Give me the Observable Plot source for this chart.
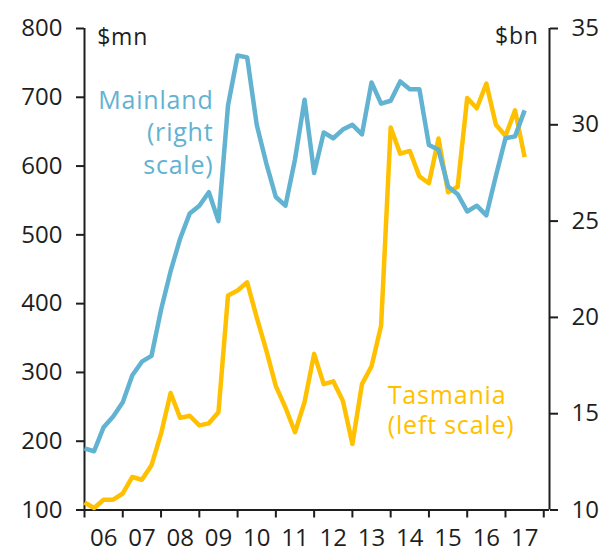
<!DOCTYPE html>
<html>
<head>
<meta charset="utf-8">
<script src="https://cdn.jsdelivr.net/npm/d3@7"></script>
<script src="https://cdn.jsdelivr.net/npm/@observablehq/plot@0.6"></script>
<style>
  html, body { margin: 0; padding: 0; background: #fff; }
  svg g[aria-label="text"] text { letter-spacing: 0.8px; }
</style>
</head>
<body>
<script>
// Quarterly observations, 2006 Q1 to 2017 Q3
const startYear = 2006;
const mainlandBn = [13.2, 13.05, 14.3, 14.85, 15.6, 17.0, 17.7, 18.0, 20.4, 22.4,
  24.1, 25.4, 25.8, 26.5, 25.0, 31.0, 33.6, 33.5, 30.0, 28.0,
  26.25, 25.8, 28.2, 31.3, 27.5, 29.6, 29.3, 29.75, 30.0, 29.5,
  32.2, 31.1, 31.25, 32.25, 31.85, 31.85, 28.95, 28.7, 26.8, 26.4,
  25.5, 25.8, 25.3, 27.35, 29.3, 29.4, 30.75];
const tasmaniaMn = [111, 103, 115, 115, 124, 148, 144, 165, 211, 270,
  234, 237, 223, 226, 242, 412, 419, 431, 380, 332,
  280, 249, 213, 257, 327, 283, 287, 259, 196, 283,
  309, 368, 656, 618, 622, 585, 575, 640, 562, 570,
  699, 684, 720, 660, 644, 681, 613];
const leftTicks = [100, 200, 300, 400, 500, 600, 700, 800];
const rightTicks = [10, 15, 20, 25, 30, 35];
const yearTicks = [2006, 2007, 2008, 2009, 2010, 2011, 2012, 2013, 2014, 2015, 2016, 2017, 2018];
const yearLabels = ["06", "07", "08", "09", "10", "11", "12", "13", "14", "15", "16", "17"];

// right scale ($bn, 10..35) maps onto left scale ($mn, 100..800)
const toLeft = bn => 100 + (bn - 10) * 28;
const fromLeft = v => 10 + (v - 100) / 28;

const t = d => startYear + d.i / 4;
const mainland = mainlandBn.map((v, i) => ({i, v}));
const tasmania = tasmaniaMn.map((v, i) => ({i, v}));

const blue = "#62b2d1";
const gold = "#ffc000";
const ink = "#1e1e1e";
const xMax = 2018.15;

const chart = Plot.plot({
  width: 613,
  height: 556,
  marginLeft: 84,
  marginRight: 64,
  marginTop: 28,
  marginBottom: 46.5,
  x: {domain: [2006, xMax]},
  y: {domain: [100, 800]},
  style: {fontFamily: "'Open Sans', sans-serif", fontSize: "24px", color: ink, background: "#fff"},
  marks: [
    Plot.axisY(leftTicks, {anchor: "left", tickSize: 8, tickPadding: 14, strokeWidth: 2, stroke: ink, label: null, fontSize: 24}),
    Plot.axisY(rightTicks.map(toLeft), {anchor: "right", tickSize: 8, tickPadding: 14, strokeWidth: 2, stroke: ink, label: null, fontSize: 24, tickFormat: d => String(Math.round(fromLeft(d)))}),
    Plot.axisX(yearTicks, {anchor: "bottom", tickSize: 8, strokeWidth: 2, stroke: ink, label: null, tickFormat: () => ""}),
    Plot.axisX(yearLabels.map((s, k) => yearTicks[k] + 0.5), {anchor: "bottom", tickSize: 0, tickPadding: 19, label: null, fontSize: 24, tickFormat: d => yearLabels[Math.round(d - 0.5) - 2006]}),
    Plot.ruleX([2006, xMax], {y1: 100, y2: 800, stroke: ink, strokeWidth: 2}),
    Plot.ruleY([100], {x1: 2006, x2: xMax, stroke: ink, strokeWidth: 2}),
    Plot.line(tasmania, {x: t, y: "v", stroke: gold, strokeWidth: 4.5, strokeLinejoin: "round", strokeLinecap: "butt"}),
    Plot.line(mainland, {x: t, y: d => toLeft(d.v), stroke: blue, strokeWidth: 4.5, strokeLinejoin: "round", strokeLinecap: "butt"}),
    Plot.text(["Mainland\n(right\nscale)"], {x: 2009.37, y: 717, text: d => d, textAnchor: "end", lineAnchor: "top", lineHeight: 1.3, fill: blue, fontSize: 25}),
    Plot.text(["Tasmania\n(left scale)"], {x: 2013.925, y: 284.5, text: d => d, textAnchor: "start", lineAnchor: "top", lineHeight: 1.2, fill: gold, fontSize: 25}),
    Plot.text(["$mn"], {x: 2006.33, y: 775.3, text: d => d, textAnchor: "start", lineAnchor: "bottom", fill: ink, fontSize: 23}),
    Plot.text(["$bn"], {x: 2017.87, y: 777.5, text: d => d, textAnchor: "end", lineAnchor: "bottom", fill: ink, fontSize: 23})
  ]
});
document.body.appendChild(chart);
</script>
</body>
</html>
